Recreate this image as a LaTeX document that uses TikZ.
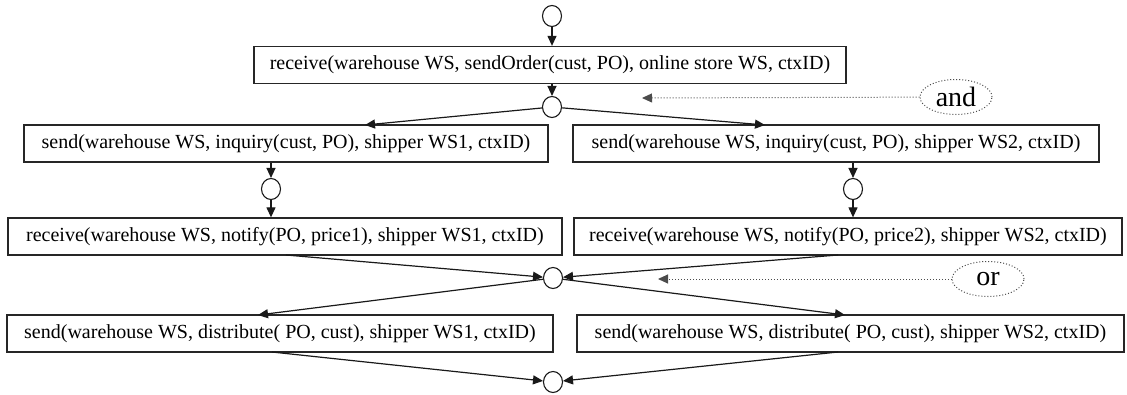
\documentclass[tikz,border=0pt]{standalone}
\usepackage{fontspec}
\setmainfont{Liberation Serif}
\usetikzlibrary{arrows.meta,shapes.geometric}
\begin{document}
\begin{tikzpicture}[x=1pt,y=-1pt,
  box/.style={draw=black!85,line width=1.3pt,rectangle,minimum height=37pt,inner sep=0pt,
    font=\fontsize{20}{24}\selectfont},
  ctl/.style={draw=black!90,ellipse,line width=1.1pt,minimum width=19pt,minimum height=21pt,inner sep=0pt},
  arr/.style={-{Triangle[length=10pt,width=9pt]},line width=1.2pt,draw=black!90},
  hint/.style={draw=black!70,ellipse,dotted,line width=1pt,minimum width=72pt,minimum height=35pt,
    inner sep=0pt,font=\fontsize{28}{30}\selectfont},
  hintarr/.style={dotted,line width=1pt,draw=black!70,-{Triangle[length=10pt,width=9pt]}}]
\useasboundingbox (0,0) rectangle (1127,394);

% control nodes
\node[ctl] (c1) at (552,16) {};
\node[ctl] (c2) at (552,107) {};
\node[ctl] (c3L) at (271,189) {};
\node[ctl] (c3R) at (853,189) {};
\node[ctl] (c4) at (553,278) {};
\node[ctl] (c5) at (553,382) {};

% activity boxes
\node[box,minimum width=592pt] (b1) at (550,65) {receive(warehouse WS, sendOrder(cust, PO), online store WS, ctxID)};
\node[box,minimum width=524pt] (b2L) at (286,143.5) {send(warehouse WS, inquiry(cust, PO), shipper WS1, ctxID)};
\node[box,minimum width=526pt] (b2R) at (836,143.5) {send(warehouse WS, inquiry(cust, PO), shipper WS2, ctxID)};
\node[box,minimum width=554pt] (b3L) at (285,236.5) {receive(warehouse WS, notify(PO, price1), shipper WS1, ctxID)};
\node[box,minimum width=548pt] (b3R) at (848,236.5) {receive(warehouse WS, notify(PO, price2), shipper WS2, ctxID)};
\node[box,minimum width=546pt] (b4L) at (280,333.5) {send(warehouse WS, distribute( PO, cust), shipper WS1, ctxID)};
\node[box,minimum width=547pt] (b4R) at (850.5,333.5) {send(warehouse WS, distribute( PO, cust), shipper WS2, ctxID)};

% condition labels
\node[hint] (and) at (956,97) {and};
\node[hint] (or) at (988,279) {or};
\coordinate (andTip) at (642,98);
\coordinate (orTip) at (658,279);

% attachment points on box edges
\coordinate (t2L) at (365,125);
\coordinate (t2R) at (765,125);
\coordinate (s3L) at (286,255);
\coordinate (s3R) at (838,255);
\coordinate (t4L) at (258,315);
\coordinate (t4R) at (845,315);
\coordinate (s4L) at (272,352);
\coordinate (s4R) at (838,352);

% connectors
\draw[arr] (c1) -- (b1.north -| c1);
\draw[arr] (b1.south -| c2) -- (c2);
\draw[arr] (c2) -- (t2L);
\draw[arr] (c2) -- (t2R);
\draw[arr] (b2L.south -| c3L) -- (c3L);
\draw[arr] (c3L) -- (b3L.north -| c3L);
\draw[arr] (b2R.south -| c3R) -- (c3R);
\draw[arr] (c3R) -- (b3R.north -| c3R);
\draw[arr] (s3L) -- (c4);
\draw[arr] (s3R) -- (c4);
\draw[arr] (c4) -- (t4L);
\draw[arr] (c4) -- (t4R);
\draw[arr] (s4L) -- (c5);
\draw[arr] (s4R) -- (c5);
\draw[hintarr] (and) -- (andTip);
\draw[hintarr] (or) -- (orTip);
\end{tikzpicture}
\end{document}
